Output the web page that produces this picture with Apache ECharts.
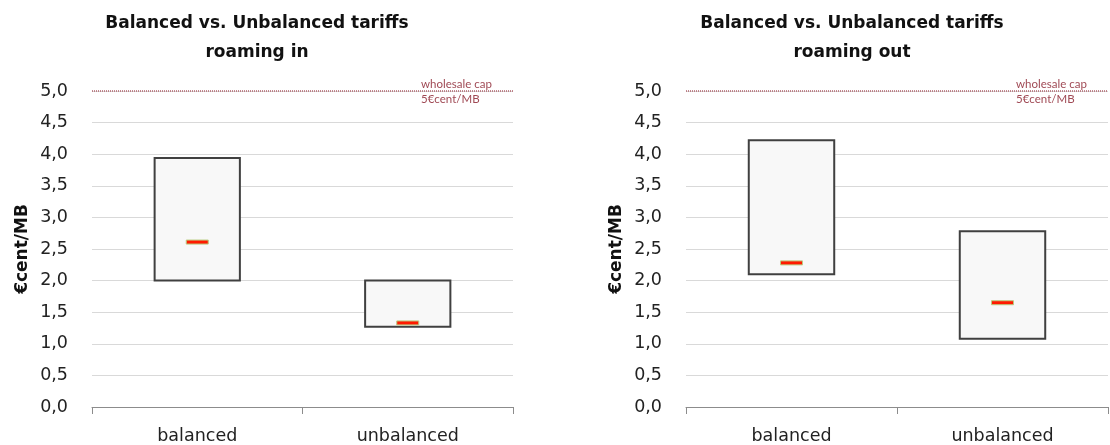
<!DOCTYPE html>
<html>
<head>
<meta charset="utf-8">
<script src="https://cdn.jsdelivr.net/npm/echarts@6/dist/echarts.min.js"></script>
<style>
  html, body { margin: 0; padding: 0; background: #fff; }
  #chart { width: 1110px; height: 445px; }
</style>
</head>
<body>
<div id="chart"></div>
<script>
// Tariff ranges (€cent/MB) per tariff type
const categories = ['balanced', 'unbalanced'];

const roamingInLow    = [2.00, 1.27];
const roamingInHigh   = [3.94, 2.00];
const roamingInMedian = [2.61, 1.33];

const roamingOutLow    = [2.10, 1.08];
const roamingOutHigh   = [4.22, 2.78];
const roamingOutMedian = [2.28, 1.65];

const wholesaleCap = 5.0;
const yTicks = ['0,0','0,5','1,0','1,5','2,0','2,5','3,0','3,5','4,0','4,5','5,0'];

const panelTitles = [
  ['Balanced vs. Unbalanced tariffs', 'roaming in'],
  ['Balanced vs. Unbalanced tariffs', 'roaming out']
];
const capLabels = ['wholesale cap', '5€cent/MB'];

const FONT = '"DejaVu Sans", sans-serif';
const SMALL_FONT = 'Lato, "Open Sans", sans-serif';
const TEXT = '#222222';
const CAP_COLOR = '#a04a55';

function rangeData(low, high, median) {
  return categories.map((c, i) => [i, low[i], high[i], median[i]]);
}

// Box from low to high, with a short marker at the median
function renderRange(params, api) {
  const x = api.value(0);
  const pLow = api.coord([x, api.value(1)]);
  const pHigh = api.coord([x, api.value(2)]);
  const pMed = api.coord([x, api.value(3)]);
  const band = api.size([1, 0])[0];
  const w = band * 0.405;
  const mw = 22, mh = 4;
  return {
    type: 'group',
    children: [
      {
        type: 'rect',
        shape: { x: pLow[0] - w / 2, y: pHigh[1], width: w, height: pLow[1] - pHigh[1] },
        style: { fill: '#f8f8f8', stroke: '#404040', lineWidth: 2 }
      },
      {
        type: 'rect',
        shape: { x: pMed[0] - mw / 2, y: pMed[1] - mh / 2, width: mw, height: mh },
        style: { fill: '#ff1a00', stroke: '#b8cc80', lineWidth: 1 }
      }
    ]
  };
}

const grids = [
  { left: 92, top: 91, width: 421, height: 316 },
  { left: 686, top: 91, width: 422, height: 316 }
];

function xAxis(gi) {
  return {
    type: 'category', gridIndex: gi, data: categories,
    boundaryGap: true,
    axisLine: { lineStyle: { color: '#8c8c8c', width: 1 } },
    axisTick: { show: true, length: 7, lineStyle: { color: '#8c8c8c' } },
    axisLabel: { color: TEXT, fontFamily: FONT, fontSize: 17.5, margin: 20 }
  };
}

function yAxis(gi) {
  return {
    type: 'value', gridIndex: gi, min: 0, max: 5, interval: 0.5,
    name: '€cent/MB', nameLocation: 'middle', nameGap: 61, nameRotate: 90,
    nameTextStyle: { color: '#111', fontFamily: FONT, fontSize: 17, fontWeight: 'bold' },
    axisLine: { show: false }, axisTick: { show: false },
    splitLine: { lineStyle: { color: '#d9d9d9', width: 1 } },
    axisLabel: {
      color: TEXT, fontFamily: FONT, fontSize: 17.5, margin: 24,
      formatter: v => yTicks[Math.round(v * 2)]
    }
  };
}

// Dotted reference line at the wholesale cap
function capLine() {
  return {
    silent: true, symbol: 'none',
    lineStyle: { color: '#b0606a', type: [1, 1], width: 1.5 },
    label: { show: false },
    data: [{ yAxis: wholesaleCap }]
  };
}

const option = {
  animation: false,
  backgroundColor: '#fff',
  grid: grids,
  xAxis: [xAxis(0), xAxis(1)],
  yAxis: [yAxis(0), yAxis(1)],
  series: [
    {
      type: 'custom', xAxisIndex: 0, yAxisIndex: 0,
      renderItem: renderRange,
      encode: { x: 0, y: [1, 2, 3] },
      data: rangeData(roamingInLow, roamingInHigh, roamingInMedian),
      markLine: capLine()
    },
    {
      type: 'custom', xAxisIndex: 1, yAxisIndex: 1,
      renderItem: renderRange,
      encode: { x: 0, y: [1, 2, 3] },
      data: rangeData(roamingOutLow, roamingOutHigh, roamingOutMedian),
      markLine: capLine()
    }
  ]
};

const chart = echarts.init(document.getElementById('chart'), null, { renderer: 'canvas' });
chart.setOption(option);

// Panel titles and the cap annotation on the 5€cent/MB line
const titleCenters = [257, 852];
const graphics = [];
[0, 1].forEach(gi => {
  const titleStyle = { fill: '#111', font: 'bold 17px ' + FONT, align: 'center', verticalAlign: 'middle' };
  graphics.push({ type: 'text', x: titleCenters[gi], y: 23.5, style: Object.assign({ text: panelTitles[gi][0] }, titleStyle) });
  graphics.push({ type: 'text', x: titleCenters[gi], y: 52.5, style: Object.assign({ text: panelTitles[gi][1] }, titleStyle) });

  const capY = chart.convertToPixel({ gridIndex: gi }, [categories.length - 1, wholesaleCap])[1];
  const x = grids[gi].left + grids[gi].width - 92;
  const capStyle = { fill: CAP_COLOR, font: '11.5px ' + SMALL_FONT, align: 'left', verticalAlign: 'middle' };
  graphics.push({ type: 'text', x: x, y: capY - 7, style: Object.assign({ text: capLabels[0] }, capStyle) });
  graphics.push({ type: 'text', x: x, y: capY + 8, style: Object.assign({ text: capLabels[1] }, capStyle) });
});
chart.setOption({ graphic: graphics });
</script>
</body>
</html>
